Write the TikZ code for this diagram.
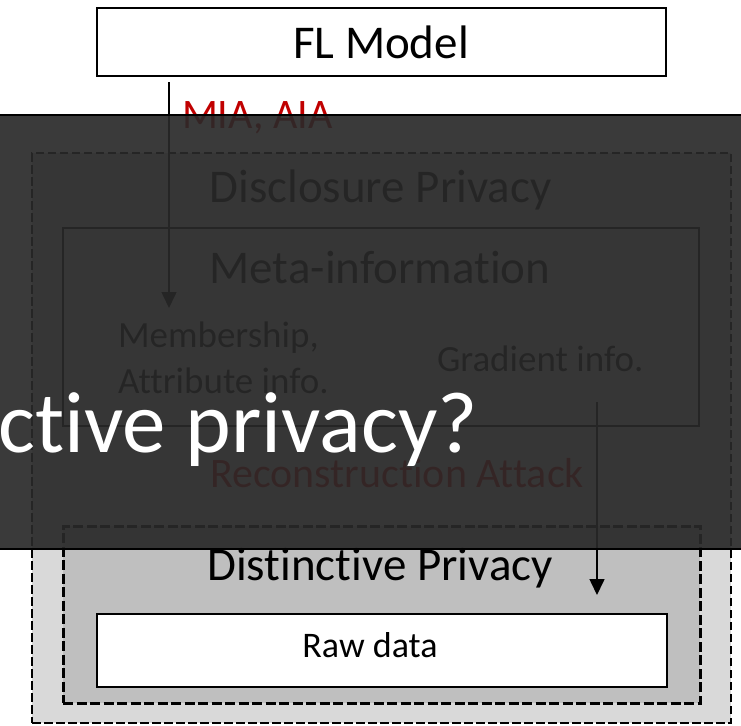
\documentclass[tikz,border=0pt]{standalone}
\usepackage{fontspec}
\setmainfont{Carlito}[Ligatures={NoCommon}]
\usetikzlibrary{arrows.meta}
\newcommand\pxfont[1]{\fontsize{#1}{#1}\selectfont}
\definecolor{outergray}{HTML}{D9D9D9}
\definecolor{innergray}{HTML}{BFBFBF}
\definecolor{attackred}{HTML}{C00000}
\begin{document}
\begin{tikzpicture}[x=1pt,y=-1pt,
  every node/.style={inner sep=0pt, outer sep=0pt},
  solidbox/.style={draw=black, line width=2.5pt, fill=white},
  dashbox/.style={draw=black, line width=2.6pt, dash pattern=on 8.5pt off 3.5pt},
  bigtxt/.style={font=\pxfont{47}},
  midtxt/.style={font=\pxfont{42}},
  smalltxt/.style={font=\pxfont{37}},
  arr/.style={line width=1.6pt, -{Triangle[length=16pt,width=15pt]}},
]
\useasboundingbox (0,0) rectangle (741,725);
\clip (0,0) rectangle (741,725);

% nested privacy regions
\node[dashbox, fill=outergray, minimum width=699pt, minimum height=570pt] (disc) at (381.5,438) {};
\node[dashbox, line width=3pt, dash pattern=on 10pt off 3.5pt, fill=innergray,
      minimum width=637pt, minimum height=177pt] (dist) at (381.5,614.5) {};
\node[solidbox, minimum width=570pt, minimum height=73pt] (raw) at (382,650.5) {};
\node[draw=black, line width=2.2pt, minimum width=636pt, minimum height=198pt] (meta) at (381,327) {};
\node[solidbox, minimum width=569pt, minimum height=68pt] (fl) at (381.5,42) {};

% labels
\node[bigtxt, anchor=base] (fltxt) at (381,58.5) {FL Model};
\node[midtxt, anchor=base west, text=attackred] (mia) at (182,128) {MIA, AIA};
\node[bigtxt, anchor=base] (disctxt) at (380.5,202) {Disclosure Privacy};
\node[bigtxt, anchor=base] (metatxt) at (380,283) {Meta-information};
\node[smalltxt, anchor=base west] (memb) at (118,347) {Membership,};
\node[smalltxt, anchor=base west] (attr) at (118,393) {Attribute info.};
\node[smalltxt, anchor=base west] (grad) at (437,371) {Gradient info.};
\node[midtxt, anchor=base, text=attackred] (recon) at (397,487) {Reconstruction Attack};
\node[bigtxt, anchor=base] (disttxt) at (380,580) {Distinctive Privacy};
\node[font=\pxfont{36}, anchor=base] (rawtxt) at (370,657) {Raw data};

% attack paths
\coordinate (miaS) at (169,82);
\coordinate (miaE) at (169,308);
\coordinate (recS) at (597,402);
\coordinate (recE) at (597,595);
\draw[arr] (miaS) -- (miaE);
\draw[arr] (recS) -- (recE);

% dimming layer and title
\node[fill=black!84, fill opacity=0.92, draw=black, line width=2pt,
      minimum width=760pt, minimum height=434pt] (shade) at (370.5,332) {};
\node[anchor=base east, text=white, font=\pxfont{87}] (title) at (478,452) {Distinctive privacy?};
\end{tikzpicture}
\end{document}
